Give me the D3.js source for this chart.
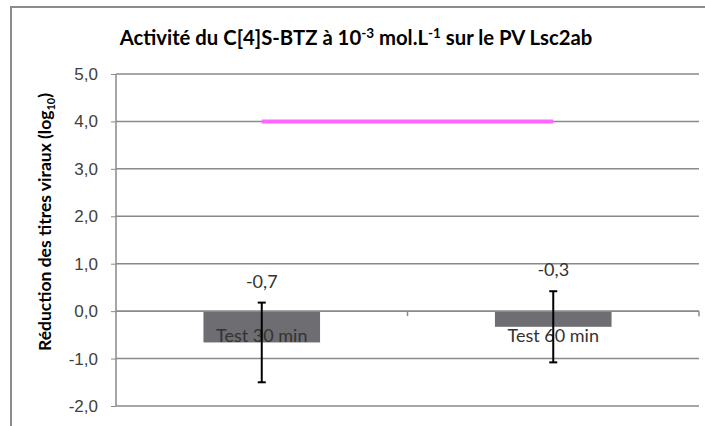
<!DOCTYPE html>
<html>
<head>
<meta charset="utf-8">
<script src="https://cdn.jsdelivr.net/npm/d3@7"></script>
<style>
  body { margin: 0; background: #fff; }
  svg { display: block; font-family: Lato, "Open Sans", sans-serif; }
</style>
</head>
<body>
<svg id="chart" width="705" height="426"></svg>
<script>
const categories = ["Test 30 min", "Test 60 min"];
const reduction = [-0.66, -0.33];
const errorSize = [0.84, 0.75];
const valueLabels = ["-0,7", "-0,3"];
const limitLine = [4, 4];
const yTicks = [-2, -1, 0, 1, 2, 3, 4, 5];

const svg = d3.select("#chart");
const width = 705, height = 426;
const margin = {top: 74, right: 6, bottom: 20, left: 116};

// chart frame (cropped on right and bottom)
svg.append("path")
  .attr("d", `M11,${height} L11,7 L${width},7`)
  .attr("fill", "none")
  .attr("stroke", "#8c8c8c")
  .attr("stroke-width", 2);

// Scales
const x = d3.scaleBand()
  .domain(categories)
  .range([margin.left, width - margin.right])
  .padding(0);

const y = d3.scaleLinear()
  .domain([-2, 5])
  .range([406, 74]);

const barW = x.bandwidth() * 0.4;
const cx = c => x(c) + x.bandwidth() / 2;

// Gridlines
svg.append("g")
  .selectAll("line")
  .data(yTicks)
  .enter().append("line")
    .attr("x1", margin.left)
    .attr("x2", width - margin.right)
    .attr("y1", d => y(d))
    .attr("y2", d => y(d))
    .attr("stroke", "#8a8a8a")
    .attr("stroke-width", 1.5);

// Y axis
const yAxis = svg.append("g")
  .attr("transform", `translate(${margin.left},0)`)
  .call(d3.axisLeft(y).tickValues(yTicks).tickSize(5).tickSizeOuter(0)
    .tickFormat(d => d3.format(".1f")(d).replace(".", ",").replace("−", "-")));
yAxis.select(".domain").attr("stroke", "#8a8a8a").attr("stroke-width", 1.5)
  .attr("d", `M0,${y(5)}V${y(-2)}`);
yAxis.selectAll(".tick line").attr("stroke", "#8a8a8a");
yAxis.selectAll(".tick text")
  .attr("x", -18)
  .attr("fill", "#404040")
  .style("font-size", "17px");

// Bars
svg.append("g")
  .selectAll("rect")
  .data(categories)
  .enter().append("rect")
    .attr("x", d => cx(d) - barW / 2)
    .attr("y", y(0))
    .attr("width", barW)
    .attr("height", (d, i) => y(reduction[i]) - y(0))
    .attr("fill", "#6e6d72");

// X axis along zero
const xAxis = svg.append("g")
  .attr("transform", `translate(0,${y(0)})`);
xAxis.append("line")
  .attr("x1", margin.left).attr("x2", width - margin.right)
  .attr("stroke", "#8a8a8a").attr("stroke-width", 1.5);
xAxis.selectAll(".xtick")
  .data(categories)
  .enter().append("line")
    .attr("x1", d => x(d) + x.bandwidth())
    .attr("x2", d => x(d) + x.bandwidth())
    .attr("y1", 0).attr("y2", 5)
    .attr("stroke", "#8a8a8a").attr("stroke-width", 1.5);

// Category labels
svg.append("g")
  .selectAll("text")
  .data(categories)
  .enter().append("text")
    .attr("x", d => cx(d))
    .attr("y", y(0) + 31)
    .attr("text-anchor", "middle")
    .attr("fill", "#333")
    .style("font-size", "18px")
    .text(d => d);

// Limit line
svg.append("path")
  .datum(limitLine)
  .attr("d", d3.line().x((d, i) => cx(categories[i])).y(d => y(d)))
  .attr("fill", "none")
  .attr("stroke", "#ff66ff")
  .attr("stroke-width", 4);

// Error bars
const err = svg.append("g").attr("stroke", "#000").attr("stroke-width", 2);
categories.forEach((c, i) => {
  const hi = y(reduction[i] + errorSize[i]);
  const lo = y(reduction[i] - errorSize[i]);
  err.append("line").attr("x1", cx(c)).attr("x2", cx(c)).attr("y1", hi).attr("y2", lo);
  err.append("line").attr("x1", cx(c) - 4).attr("x2", cx(c) + 4).attr("y1", hi).attr("y2", hi);
  err.append("line").attr("x1", cx(c) - 4).attr("x2", cx(c) + 4).attr("y1", lo).attr("y2", lo);
});

// Value labels
svg.append("g")
  .selectAll("text")
  .data(categories)
  .enter().append("text")
    .attr("x", d => cx(d))
    .attr("y", (d, i) => y(reduction[i] + errorSize[i]) - 15)
    .attr("text-anchor", "middle")
    .attr("fill", "#333")
    .style("font-size", "18px")
    .text((d, i) => valueLabels[i]);

// Title
const title = svg.append("text")
  .attr("x", 356)
  .attr("y", 45)
  .attr("text-anchor", "middle")
  .attr("fill", "#000")
  .style("font-size", "20.3px")
  .style("font-weight", "bold");
title.append("tspan").text("Activité du C[4]S-BTZ à 10");
title.append("tspan").attr("dy", -7).style("font-size", "13.5px").text("-3");
title.append("tspan").attr("dy", 7).text(" mol.L");
title.append("tspan").attr("dy", -7).style("font-size", "13.5px").text("-1");
title.append("tspan").attr("dy", 7).text(" sur le PV Lsc2ab");

// Y axis title
const yTitle = svg.append("text")
  .attr("transform", "translate(51,222) rotate(-90)")
  .attr("text-anchor", "middle")
  .attr("fill", "#000")
  .style("font-size", "17.5px")
  .style("font-weight", "bold");
yTitle.append("tspan").text("Réduction des titres viraux (log");
yTitle.append("tspan").attr("dy", 4).style("font-size", "11px").text("10");
yTitle.append("tspan").attr("dy", -4).text(")");
</script>
</body>
</html>
